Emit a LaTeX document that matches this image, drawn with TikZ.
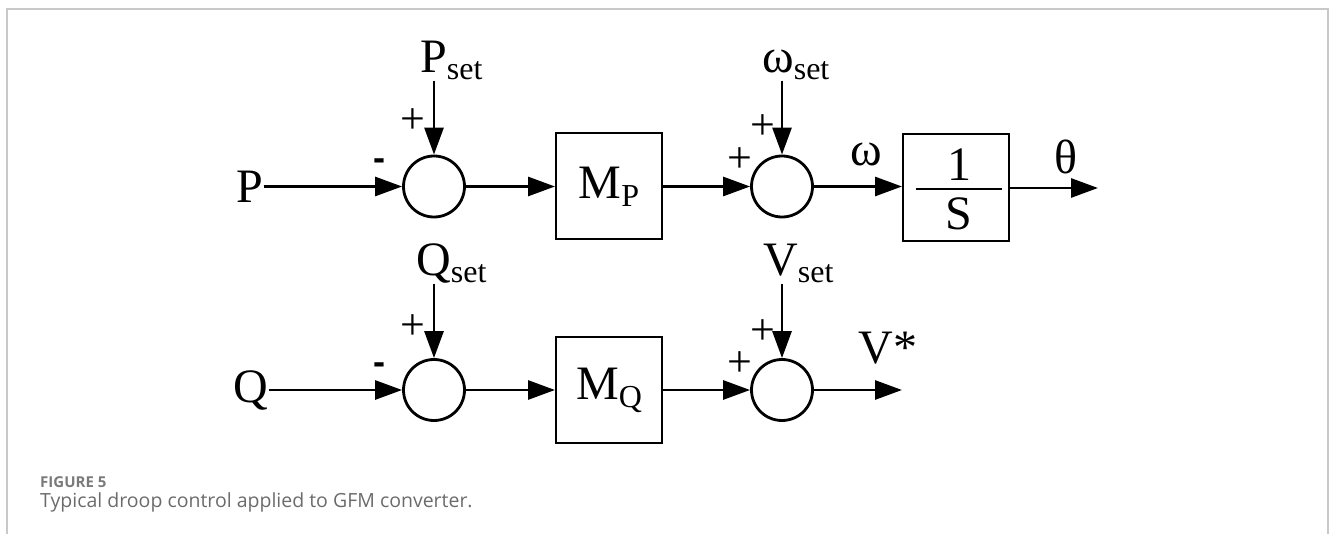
\documentclass[tikz,border=0pt]{standalone}
\usepackage{fontspec}
\setmainfont{Liberation Serif}
\newfontfamily\capfont{Open Sans}
\newfontfamily\negfont{DejaVu Sans}
\usetikzlibrary{arrows.meta}
\newcommand\bigf{\fontsize{48}{52}\selectfont}
\newcommand\withset[1]{#1{\fontsize{32}{34}\selectfont\raisebox{-7pt}{set}}}
\definecolor{framegray}{HTML}{C8C8C8}
\definecolor{figgray}{HTML}{7A7A7A}
\definecolor{capgray}{HTML}{6B6B6B}
\begin{document}
\begin{tikzpicture}[x=1pt,y=-1pt,
  sig/.style={line width=2.8pt,-{Triangle[length=27pt,width=19pt]}},
  sumnode/.style={circle,draw,line width=2.8pt,minimum size=61pt,inner sep=0pt},
  blk/.style={rectangle,draw,line width=2pt,minimum width=106pt,minimum height=106pt,inner sep=0pt,font=\bigf},
  lbl/.style={inner sep=0pt,font=\bigf},
  setlbl/.style={inner sep=0pt,anchor=base west,font=\bigf},
  sgn/.style={inner sep=0pt,font=\fontsize{44}{46}\selectfont},
  neg/.style={inner sep=0pt,font=\negfont\bfseries\fontsize{30}{32}\selectfont},
  frameline/.style={draw=framegray,line width=2pt}]
\useasboundingbox (0,0) rectangle (1330,534);
\draw[frameline] (6.5,534) -- (6.5,9) -- (1328,9) -- (1328,534);

% P row
\node[lbl] (P) at (250,186.5) {P};
\node[sumnode] (s1) at (434,186.5) {};
\node[blk] (mp) at (609,186.5) {M{\fontsize{32}{34}\selectfont\raisebox{-8pt}{P}}};
\node[sumnode] (s2) at (782,186.5) {};
\node[blk,minimum height=107pt] (int) at (956,188) {};
\node[lbl] (one) at (959,165) {1};
\node[lbl] (ess) at (959,214) {S};
\draw[line width=2pt] (916,189) -- (1002,189);
\coordinate (thetaend) at (1098,188);
\node[lbl] (omega) at (866,154) {ω};
\node[lbl] (theta) at (1066,157) {θ};
\node[setlbl] (pset) at (420,73) {\withset{P}};
\node[setlbl] (wset) at (762,73) {\withset{ω}};
\node[sgn] (pp1) at (413,121) {+};
\node[neg] (pm1) at (379,164) {-};
\node[sgn] (pp2) at (763,127) {+};
\node[sgn] (pp3) at (740,160) {+};

\draw[sig] (P.east) -- (s1.west);
\draw[sig] (pset.south -| s1.north) -- (s1.north);
\draw[sig] (s1.east) -- (mp.west |- s1.east);
\draw[sig] (mp.east |- s2.west) -- (s2.west);
\draw[sig] (wset.south -| s2.north) -- (s2.north);
\draw[sig] (s2.east) -- (int.west |- s2.east);
\draw[sig] (int.east) -- (thetaend);

% Q row
\node[lbl] (Q) at (251,390) {Q};
\node[sumnode] (s3) at (434,390) {};
\node[blk] (mq) at (609,390) {M{\fontsize{32}{34}\selectfont\raisebox{-8pt}{Q}}};
\node[sumnode] (s4) at (782,390) {};
\coordinate (vend) at (902,390);
\node[lbl] (vstar) at (888,348) {V*};
\node[setlbl] (qset) at (416,276) {\withset{Q}};
\node[setlbl] (vset) at (763,276) {\withset{V}};
\node[sgn] (qp1) at (413,327) {+};
\node[neg] (qm1) at (379,368) {-};
\node[sgn] (qp2) at (763,332) {+};
\node[sgn] (qp3) at (740,364) {+};

\draw[sig] (Q.east |- s3.west) -- (s3.west);
\draw[sig] (qset.south -| s3.north) -- (s3.north);
\draw[sig] (s3.east) -- (mq.west |- s3.east);
\draw[sig] (mq.east |- s4.west) -- (s4.west);
\draw[sig] (vset.south -| s4.north) -- (s4.north);
\draw[sig] (s4.east) -- (vend);

% caption
\node[anchor=base west,inner sep=0pt,text=figgray,font=\capfont\bfseries\fontsize{15}{17}\selectfont] (fig) at (40,487) {FIGURE 5};
\node[anchor=base west,inner sep=0pt,text=capgray,font=\capfont\fontsize{19.5}{21}\selectfont] (cap) at (40,507) {Typical droop control applied to GFM converter.};
\end{tikzpicture}
\end{document}
